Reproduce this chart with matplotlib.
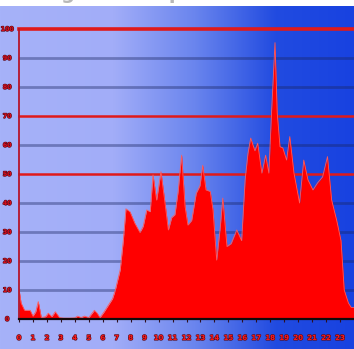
import numpy as np
import matplotlib
matplotlib.use("Agg")
import matplotlib.pyplot as plt
import matplotlib.patheffects as pe
from matplotlib.colors import LinearSegmentedColormap

# Carga media por hora del día (0-24 h)
horas = [0, 0.15, 0.4, 0.8, 1.0, 1.2, 1.38, 1.6, 1.9, 2.1, 2.35, 2.6, 2.9, 3.2, 3.6,
         4.0, 4.2, 4.45, 4.7, 5.0, 5.4, 5.6, 5.8, 6.1, 6.3, 6.5, 6.7, 6.9, 7.05, 7.25,
         7.47, 7.66, 7.95, 8.3, 8.67, 8.9, 9.15, 9.4, 9.6, 9.86, 10.17, 10.46, 10.7,
         10.94, 11.17, 11.4, 11.65, 11.9, 12.1, 12.37, 12.7, 12.97, 13.16, 13.4, 13.7,
         13.9, 14.16, 14.4, 14.6, 14.9, 15.2, 15.6, 15.95, 16.2, 16.4, 16.6, 16.9,
         17.1, 17.4, 17.67, 17.9, 18.1, 18.34, 18.5, 18.7, 18.9, 19.17, 19.4, 19.7,
         20.1, 20.4, 20.7, 21.06, 21.4, 21.75, 22.1, 22.4, 22.76, 23.07, 23.3, 23.6,
         23.8, 24.0]
valores = [10.3, 5.5, 3, 3, 1, 2.5, 6, 0.5, 0.8, 2, 0.8, 2.5, 0.5, 0.3, 0.3,
           0.4, 1, 0.5, 1, 0.5, 3, 2, 0.5, 2.5, 4, 5.5, 7, 10, 13, 17,
           27, 38, 37, 33, 29.8, 32, 37.6, 37, 49.7, 41, 50.8, 40, 30.7,
           35, 36, 44, 56.5, 38.7, 32.4, 34, 43.4, 46, 53, 44.5, 44,
           37.6, 20.3, 30.7, 41.7, 25, 26, 30.7, 27, 48, 57, 62.4, 58,
           60.6, 50.3, 56.5, 50.3, 72, 95.3, 71, 59.4, 59, 54.8, 62.9, 50.3,
           40, 54.8, 48, 44.5, 47, 49, 56, 41, 34, 27, 10, 5.5,
           4, 4]

ticks_x = list(range(24))
ticks_y = list(range(0, 101, 10))
lineas_rojas = [50, 70, 100]

W, H = 354, 349
fig = plt.figure(figsize=(W / 100, H / 100), dpi=100, facecolor="white")

# fondo degradado de toda la figura
fondo = fig.add_axes([0, 0, 1, 1], zorder=0)
fondo.set_xlim(0, W)
fondo.set_ylim(H, 0)
fondo.axis("off")
cmap = LinearSegmentedColormap.from_list(
    "fondo", [(0.0, "#a6b2f9"), (0.32, "#a2adf8"), (0.55, "#6a85ee"),
              (0.78, "#214be0"), (1.0, "#1842e0")])
grad = np.linspace(0, 1, 256).reshape(1, -1)
fondo.imshow(grad, cmap=cmap, aspect="auto", extent=[0, W, H, 6], zorder=2)

# título, casi todo fuera del borde superior
fig.text(0.52, 1.0 + 7 / H, "Carga media por hora del día", ha="center",
         va="center", fontsize=14, color="#b8b8b8", fontweight="bold", zorder=-1)

ax = fig.add_axes([19 / W, 1 - 319 / H, 1 - 19 / W, 290 / H], zorder=1)
ax.patch.set_alpha(0)
ax.set_xlim(0, 24)
ax.set_ylim(0, 100)
for s in ax.spines.values():
    s.set_visible(False)

for v in ticks_y[1:]:
    if v in lineas_rojas:
        ax.axhline(v, color="#e01a1a", lw=2.6 if v == 100 else 1.8,
                   zorder=1, clip_on=False)
    else:
        ax.axhline(v, color="#1a2560", lw=2.0, alpha=0.4, zorder=1)

ax.fill_between(horas, valores, color="#ff0000", lw=0, zorder=2)
ax.plot(horas, valores, color="#ff5a5a", lw=0.6, zorder=3)

ax.axvline(0, color="#b5142a", lw=1.3, zorder=4, clip_on=False)
ax.axhline(0, color="#140a0a", lw=1.6, zorder=4, clip_on=False)

ax.set_xticks(ticks_x)
ax.set_xticklabels([str(t) for t in ticks_x])
ax.set_yticks(ticks_y)
ax.set_yticklabels([str(t) for t in ticks_y])
ax.tick_params(axis="x", length=2.5, width=0.8, color="#301020", pad=9,
               labelsize=5, labelcolor="#ff1a1a")
ax.tick_params(axis="y", length=0, pad=2.5, labelsize=4.5, labelcolor="#e0101e")
contorno = [pe.withStroke(linewidth=0.9, foreground="#5a0c1c")]
for lab in ax.get_xticklabels() + ax.get_yticklabels():
    lab.set_fontweight("bold")
    lab.set_path_effects(contorno)
for lab in ax.get_yticklabels():
    lab.set_horizontalalignment("center")
    lab.set_x(-0.025)

fig.savefig("out.png", dpi=100)
